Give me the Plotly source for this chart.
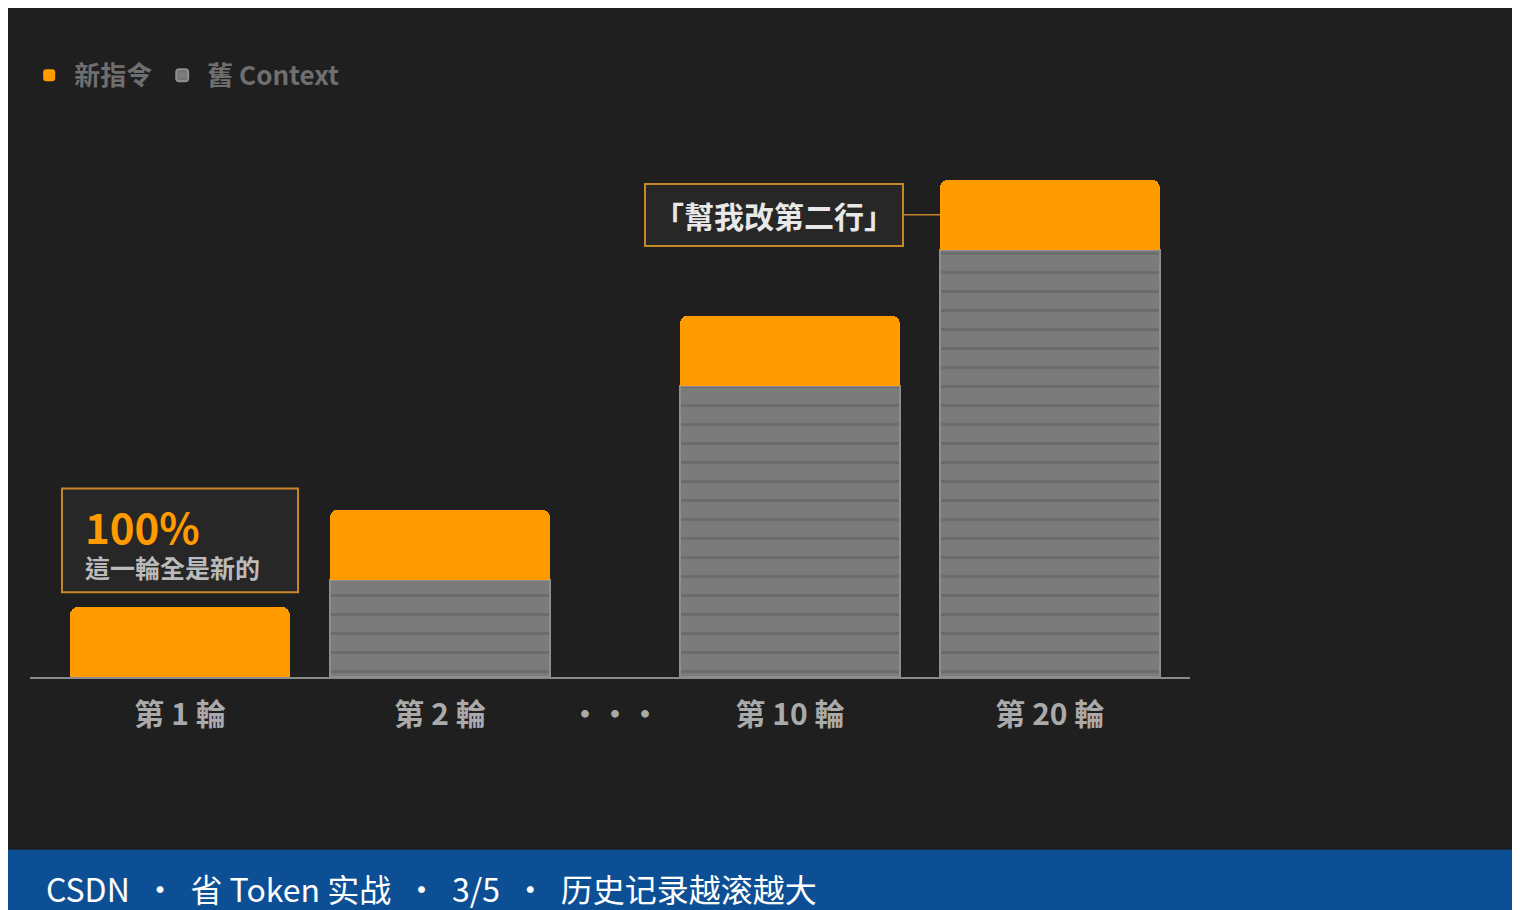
import plotly.graph_objects as go

x_pos = [0, 1, 2.346, 3.346]
tick_vals = [0, 1, 1.673, 2.346, 3.346]
tick_text = ["第 1 輪", "第 2 輪", "···", "第 10 輪", "第 20 輪"]
new_vals = [1.0, 1.0, 1.0, 1.0]
old_vals = [0.0, 1.39, 4.16, 6.1]

FONT = "Noto Sans CJK TC, Noto Sans, sans-serif"
fig = go.Figure()
fig.add_trace(go.Bar(
    x=x_pos, y=old_vals, name="舊 Context", width=0.846,
    marker=dict(color="#7b7b7b", line=dict(color="#8e8e8e", width=2),
                pattern=dict(shape="-", fgcolor="#5c5c5c", size=19, solidity=0.15)),
))
fig.add_trace(go.Bar(
    x=x_pos, y=new_vals, name="新指令", width=0.846,
    marker=dict(color="#ff9b00", line=dict(width=0)),
))
fig.update_layout(
    barmode="stack", barcornerradius=8,
    width=1520, height=910,
    margin=dict(l=22, r=338, t=122, b=241),
    paper_bgcolor="#1f1f1f", plot_bgcolor="#1f1f1f",
    font=dict(family=FONT, color="#aaaaaa"),
    legend=dict(orientation="h", x=-0.005, y=1.10, xanchor="left", yanchor="middle",
                traceorder="reversed", font=dict(size=26, color="#6f6f6f", family=FONT, weight="bold"),
                itemwidth=40, bgcolor="rgba(0,0,0,0)"),
    xaxis=dict(range=[-0.577, 3.885], tickvals=tick_vals, ticktext=tick_text,
               showgrid=False, zeroline=False, showline=True, linecolor="#8a8a8a", linewidth=2,
               tickfont=dict(size=30, color="#aaaaaa", family=FONT, weight="bold"), ticks="", ticklabelstandoff=10),
    yaxis=dict(range=[0, 7.81], visible=False),
    showlegend=True,
)
fig.add_shape(type="rect", xref="x", yref="y", x0=-0.454, x1=0.454, y0=1.21, y1=2.69,
              fillcolor="#272727", line=dict(color="#c8862a", width=2), layer="above")
fig.add_annotation(x=-0.373, y=2.16, xref="x", yref="y", xanchor="left", yanchor="middle", showarrow=False,
                   text="<b>100%</b>", font=dict(size=42, color="#ff9b00", family=FONT))
fig.add_annotation(x=-0.373, y=1.57, xref="x", yref="y", xanchor="left", yanchor="middle", showarrow=False,
                   text="<b>這一輪全是新的</b>", font=dict(size=25, color="#bbbbbb", family=FONT))
fig.add_annotation(
    x=2.923, y=6.6, xref="x", yref="y", ax=-166, ay=0, showarrow=True, arrowhead=0,
    arrowcolor="#c8862a", arrowwidth=1.5,
    text="<b>「幫我改第二行」</b>", font=dict(size=30, color="#e8e8e8", family=FONT),
    bgcolor="#272727", bordercolor="#c8862a", borderwidth=2, borderpad=8,
)
fig.add_shape(type="rect", xref="paper", yref="paper", x0=-0.03, x1=1.29, y0=-0.316, y1=-0.45,
              fillcolor="#0d4f94", line=dict(width=0), layer="above")
fig.add_annotation(
    x=0.012, y=-0.385, xref="paper", yref="paper", xanchor="left", yanchor="middle", showarrow=False,
    text="CSDN  ·  省 Token 实战  ·  3/5  ·  历史记录越滚越大",
    font=dict(size=32, color="#ffffff", family="Noto Sans CJK SC"),
)
fig.write_html("out.html")
